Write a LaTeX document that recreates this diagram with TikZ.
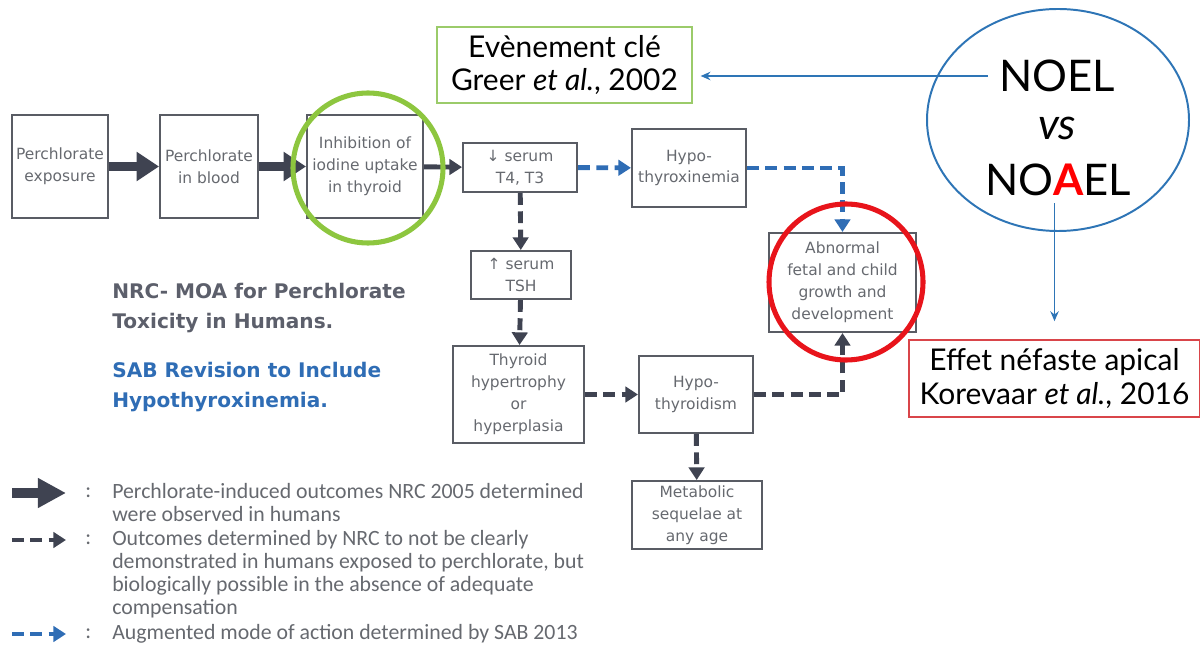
\documentclass[tikz,border=0pt]{standalone}
\usepackage{fontspec}
\setmainfont{DejaVu Sans}
\newfontfamily\annotfont{Lato}
\newfontfamily\legendfont{Carlito}
\usetikzlibrary{arrows.meta}

\definecolor{boxgray}{HTML}{595C64}
\definecolor{txtgray}{HTML}{66696F}
\definecolor{arrdark}{HTML}{3F4351}
\definecolor{sabblue}{HTML}{2F6DB5}
\definecolor{ringgreen}{HTML}{8DC63F}
\definecolor{ringred}{HTML}{E8141B}
\definecolor{noelblue}{HTML}{2E75B6}
\definecolor{keygreen}{HTML}{9BCB6A}
\definecolor{apired}{HTML}{D9454A}

\begin{document}
\begin{tikzpicture}[x=0.025cm,y=-0.025cm,
    moabox/.style={draw=boxgray, line width=1.4pt, text=txtgray, align=center,
        inner sep=0pt, font=\fontsize{11}{15.6}\selectfont},
    bigarrow/.style={draw=arrdark, line width=7pt, -{Triangle[length=16pt,width=20pt]}},
    darkarrow/.style={draw=arrdark, line width=3.5pt, -{Triangle[length=9pt,width=11pt]}},
    darkdash/.style={darkarrow, dash pattern=on 8.5pt off 4.5pt},
    bluedash/.style={darkdash, draw=sabblue},
    keybox/.style={draw, line width=0.8pt, align=center, inner sep=0pt,
        font=\annotfont\fontsize{21.3}{23.5}\selectfont},
    noelarrow/.style={draw=noelblue, line width=1.3pt, -{Stealth[length=7pt,width=6pt]}},
    keytext/.style={anchor=north west, align=left, inner sep=0pt, text=txtgray,
        font=\legendfont\fontsize{15.5}{16.4}\selectfont},
    colon/.style={anchor=mid west, inner sep=0pt, text=txtgray,
        font=\legendfont\fontsize{15.5}{16.4}\selectfont}]

    \useasboundingbox (0,0) rectangle (1200,648);

    % boxes of the mode of action
    \node[moabox, minimum width=2.4cm, minimum height=2.575cm] (expo) at (60,166.5) {Perchlorate\\exposure};
    \node[moabox, minimum width=2.45cm, minimum height=2.575cm] (blood) at (209,166.5) {Perchlorate\\in blood};
    \node[moabox, minimum width=2.9cm, minimum height=2.575cm] (inhib) at (365,166.5) {Inhibition of\\iodine uptake\\in thyroid};
    \node[moabox, minimum width=2.85cm, minimum height=1.225cm] (tfour) at (520,167.5) {↓ serum\\T4, T3};
    \node[moabox, minimum width=2.85cm, minimum height=1.95cm] (hypoxin) at (689,168) {Hypo-\\thyroxinemia};
    \node[moabox, minimum width=3.675cm, minimum height=2.475cm] (abn) at (842.5,282.5) {Abnormal\\fetal and child\\growth and\\development};
    \node[moabox, minimum width=2.5cm, minimum height=1.2cm] (tsh) at (521,275) {↑ serum\\TSH};
    \node[moabox, minimum width=3.275cm, minimum height=2.425cm] (hypert) at (518.5,394.5) {Thyroid\\hypertrophy\\or\\hyperplasia};
    \node[moabox, minimum width=2.85cm, minimum height=1.925cm] (hypothy) at (696,394.5) {Hypo-\\thyroidism};
    \node[moabox, minimum width=3.25cm, minimum height=1.7cm] (metab) at (697,515) {Metabolic\\sequelae at\\any age};

    % connectors
    \draw[bigarrow] (expo) -- (blood);
    \draw[bigarrow] (blood) -- (inhib);
    \draw[darkarrow] (inhib) -- (tfour);
    \draw[bluedash] (tfour) -- (hypoxin);
    \draw[bluedash] (hypoxin.east) -| (abn.north);
    \draw[darkdash] (tfour) -- (tsh);
    \draw[darkdash] (tsh) -- (hypert);
    \draw[darkdash] (hypert) -- (hypothy);
    \draw[darkdash] (hypothy.east) -| (abn.south);
    \draw[darkdash] (hypothy) -- (metab);

    % titles
    \node[anchor=base west, align=left, inner sep=0pt, text=arrdark!85,
        font=\bfseries\fontsize{14.3}{21.3}\selectfont] (nrc) at (112,328)
        {NRC- MOA for Perchlorate\\Toxicity in Humans.};
    \node[anchor=base west, align=left, inner sep=0pt, text=sabblue,
        font=\bfseries\fontsize{14.3}{21.3}\selectfont] (sab) at (112,407)
        {SAB Revision to Include\\Hypothyroxinemia.};

    % legend
    \coordinate (k1a) at (12,493);
    \coordinate (k1b) at (66,493);
    \coordinate (k2a) at (12,540);
    \coordinate (k2b) at (66,540);
    \coordinate (k3a) at (12,634);
    \coordinate (k3b) at (66,634);
    \draw[draw=arrdark, line width=7pt, -{Triangle[length=20pt,width=20pt]}] (k1a) -- (k1b);
    \draw[darkdash] (k2a) -- (k2b);
    \draw[bluedash] (k3a) -- (k3b);
    \node[colon] (c1) at (85,494) {:};
    \node[colon] (c2) at (85,541) {:};
    \node[colon] (c3) at (85,635) {:};
    \node[keytext] (l1) at (112,483) {Perchlorate-induced outcomes NRC 2005 determined\\were observed in humans};
    \node[keytext] (l2) at (112,530) {Outcomes determined by NRC to not be clearly\\demonstrated in humans exposed to perchlorate, but\\biologically possible in the absence of adequate\\compensation};
    \node[keytext] (l3) at (112,624) {Augmented mode of action determined by SAB 2013};

    % highlights
    \draw[ringgreen, line width=3.6pt] (368,168) ellipse [x radius=75, y radius=75];
    \draw[ringred, line width=3.6pt] (846,282) ellipse [x radius=77, y radius=78];
    \draw[noelblue, line width=1.4pt] (1058,120) ellipse [x radius=131, y radius=111];

    % annotations
    \node[keybox, draw=keygreen, minimum width=6.375cm, minimum height=1.9cm] (greer) at (564.5,65)
        {Evènement clé\\Greer \textit{et al.}, 2002};
    \node[keybox, draw=apired, minimum width=7.275cm, minimum height=1.925cm] (apical) at (1054.5,378.5)
        {Effet néfaste apical\\Korevaar \textit{et al.}, 2016};
    \node[inner sep=0pt, font=\annotfont\fontsize{31}{31}\selectfont] (noel) at (1057,76) {NOEL};
    \node[inner sep=0pt, font=\annotfont\itshape\fontsize{31}{31}\selectfont] (vs) at (1057,128) {vs};
    \node[inner sep=0pt, font=\annotfont\fontsize{31}{31}\selectfont] (noael) at (1058,180)
        {NO{\color{red}\bfseries A}EL};
    \draw[noelarrow, shorten <=8pt, shorten >=5.7pt] (noel.west) -- (greer.east |- noel.west);
    \draw[noelarrow, shorten >=13pt, shorten <=5pt] (noael.south -| apical.north) -- (apical.north);
\end{tikzpicture}
\end{document}
